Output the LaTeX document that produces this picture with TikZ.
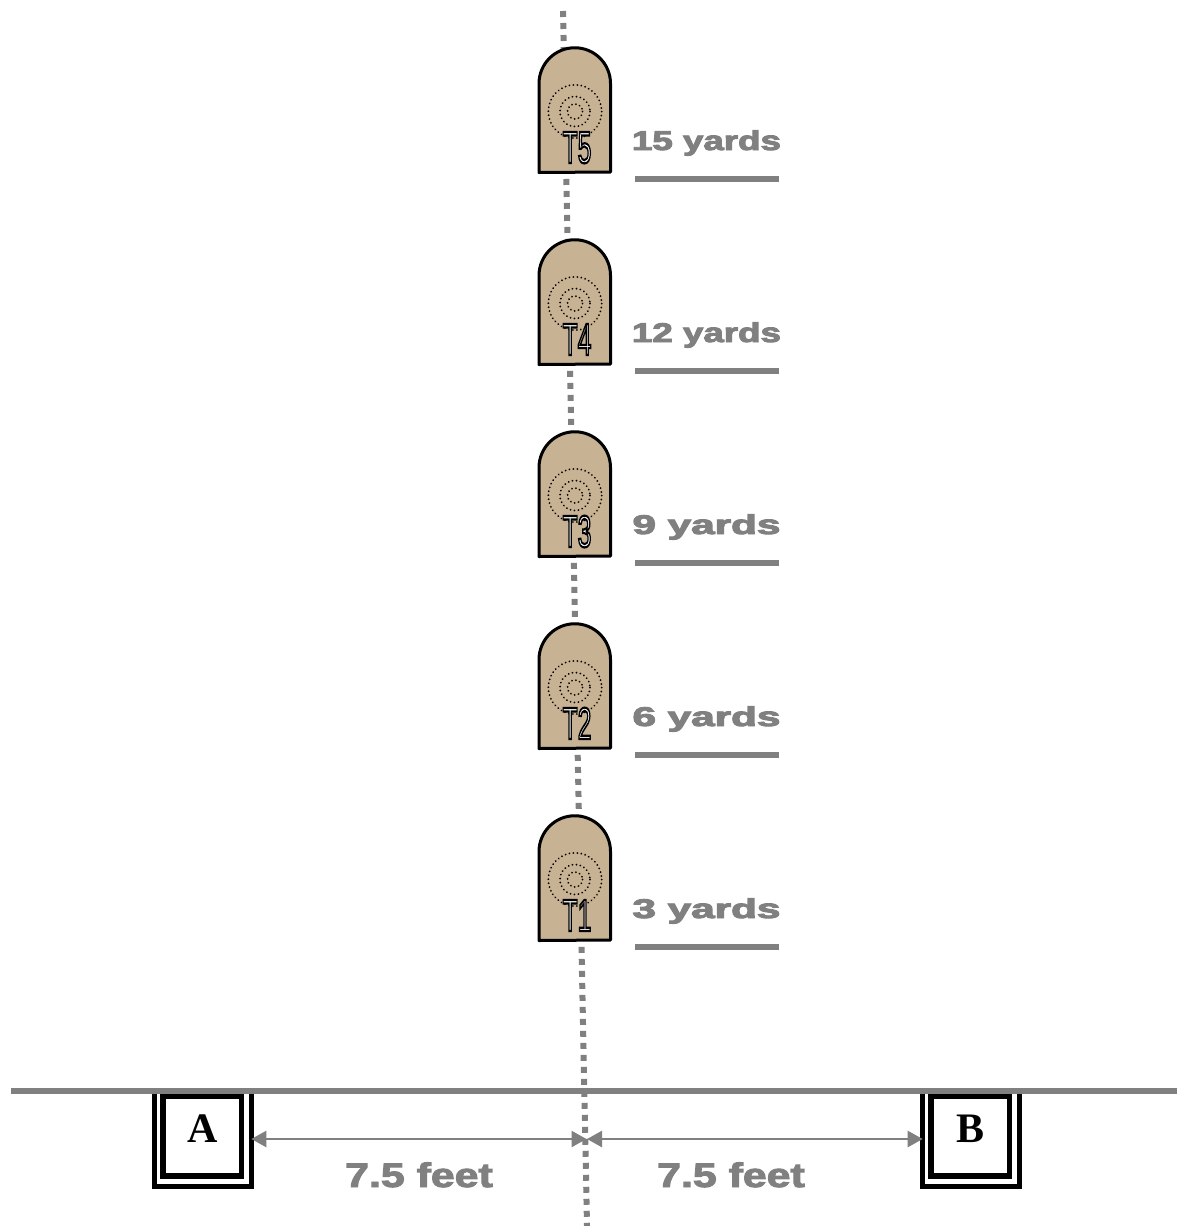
\documentclass[tikz,border=0pt]{standalone}
\usepackage{fontspec}
\setmainfont{Liberation Sans}
\newfontfamily\serifbold{Liberation Serif}[BoldFont={Liberation Serif Bold}]
\definecolor{gr}{HTML}{808080}
\definecolor{tan}{HTML}{C7B294}
\newcommand{\outlinedtext}[1]{\special{pdf:code 2 Tr 2.2 w 0 0 0 RG}#1\special{pdf:code 0 Tr 1 w}}
\newcommand{\heavytext}[1]{\special{pdf:code 2 Tr 0.9 w 0.502 0.502 0.502 RG}#1\special{pdf:code 0 Tr 1 w}}
\usetikzlibrary{arrows.meta}
\tikzset{
  target/.style={fill=tan,draw=black,line width=3pt,line join=round},
  ring/.style={draw=black,line width=1.9pt,dash pattern=on 0.1pt off 3.9pt,line cap=round},
  centreline/.style={draw=gr,line width=6pt,dash pattern=on 6pt off 6pt},
  ruleline/.style={draw=gr,line width=6pt},
  groundline/.style={draw=gr,line width=6pt},
  yardtext/.style={anchor=base,inner sep=0pt,text=gr,transform shape,font=\fontsize{27}{30}\selectfont\bfseries},
  feettext/.style={anchor=base,inner sep=0pt,text=gr,xscale=1.26,transform shape,font=\fontsize{34}{38}\selectfont\bfseries},
  targettext/.style={anchor=base,inner sep=0pt,text=white,xscale=0.55,transform shape,font=\fontsize{45}{48}\selectfont},
  outerbox/.style={draw=black,line width=5.3pt,rectangle,minimum width=96.6pt,minimum height=95.5pt,outer sep=0pt,inner sep=0pt},
  innerbox/.style={draw=black,fill=white,line width=5.5pt,rectangle,minimum width=78.5pt,minimum height=80pt,outer sep=0pt,inner sep=0pt},
  boxlabel/.style={anchor=base,inner sep=0pt,text=black,font=\fontsize{42}{46}\selectfont\serifbold\bfseries},
  dimarrow/.style={draw=gr,line width=2.4pt,{Triangle[length=15pt,width=16pt]}-{Triangle[length=15pt,width=16pt]}},
}
\begin{document}
\begin{tikzpicture}[x=1pt,y=-1pt]
\useasboundingbox (0,0) rectangle (1177,1226);
% centre line
\coordinate (linetop) at (563,11);
\coordinate (linebottom) at (587,1226);
\path[centreline] (linetop) -- (linebottom);
% targets
\foreach \i/\ys in {1/1.565,2/1.565,3/1.565,4/1.36,5/1.36}{
  \pgfmathsetmacro{\t}{816-(\i-1)*192}
  \pgfmathtruncatemacro{\yd}{3*\i}
  \path[target] (539,\t+124.5) -- (539,\t+35.5) arc[start angle=180,end angle=360,radius=35.75] -- (610.5,\t+124) -- cycle;
  \path[ring] (575,\t+63.5) circle[radius=26.7];
  \path[ring] (575,\t+63.5) circle[radius=15];
  \path[ring] (575,\t+63.5) circle[radius=7.5];
  \node[targettext] (tt\i) at (577,\t+115) {\outlinedtext{T\i}};
  \node[yardtext,xscale=\ys] (yd\i) at (706.5,\t+102) {\heavytext{\yd\ yards}};
  \coordinate (rl\i) at (635,\t+131);
  \coordinate (rr\i) at (779,\t+131);
  \path[ruleline] (rl\i) -- (rr\i);
}
% boxes
\node[outerbox] (outA) at (203,1138.75) {};
\node[innerbox] (inA) at (202.25,1136) {};
\node[outerbox] (outB) at (971,1138.75) {};
\node[innerbox] (inB) at (970,1136) {};
\node[boxlabel] (labA) at (202.5,1142.7) {A};
\node[boxlabel] (labB) at (970,1142.7) {B};
% ground line
\coordinate (gl) at (11,1091);
\coordinate (grr) at (1177,1091);
\path[groundline] (gl) -- (grr);
% dimensions
\coordinate (midL) at (586.5,1139);
\coordinate (midR) at (587,1139);
\path[dimarrow] (outA.east |- midL) -- (midL);
\path[dimarrow] (midR) -- (outB.west |- midR);
\node[feettext] (feetL) at (419,1187) {\heavytext{7.5 feet}};
\node[feettext] (feetR) at (731,1187) {\heavytext{7.5 feet}};
\end{tikzpicture}
\end{document}
